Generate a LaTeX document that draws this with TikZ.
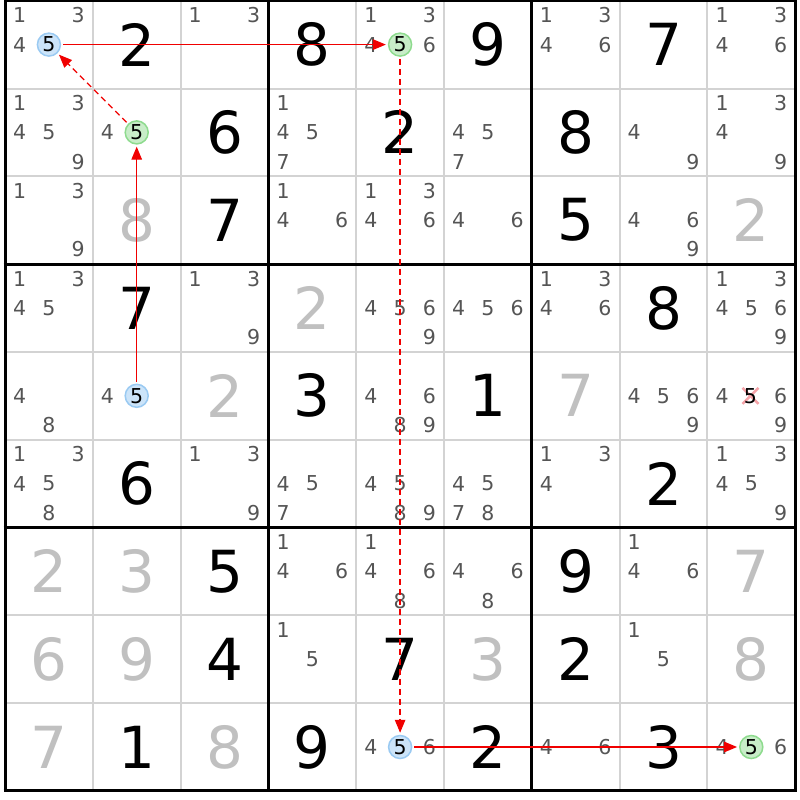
\documentclass[tikz,border=0pt]{standalone}
\usepackage{fontspec}
\setmainfont{DejaVu Sans}
\usetikzlibrary{arrows.meta}
\definecolor{candgray}{HTML}{555555}
\definecolor{solvgray}{HTML}{C0C0C0}
\definecolor{gridgray}{HTML}{D3D3D3}
\definecolor{bluefill}{HTML}{CCE4F9}
\definecolor{blueedge}{HTML}{9ACAF2}
\definecolor{greenfill}{HTML}{C8EDC8}
\definecolor{greenedge}{HTML}{8EDB8E}
\definecolor{linkred}{HTML}{F00000}
\definecolor{xpink}{HTML}{F5A3A8}
\newcommand\Gv[3]{\node[big] (g#1#2) at ({5+(#2-0.5)*87.8},{0.7+(#1-0.5)*87.8}) {#3};}
\newcommand\Sv[3]{\node[bigsolved] (g#1#2) at ({5+(#2-0.5)*87.8},{0.7+(#1-0.5)*87.8}) {#3};}
\newcommand\Cd[3]{\foreach \dg in {#3}{%
  \pgfmathtruncatemacro\sx{mod(\dg-1,3)}%
  \pgfmathtruncatemacro\sy{(\dg-1)/3}%
  \node[cand] (c#1#2\dg) at ({5+(#2-1)*87.8+(2*\sx+1)*87.8/6},{0.7+(#1-1)*87.8+(2*\sy+1)*87.8/6}) {\dg};}}
\newcommand\Hl[4]{%
  \pgfmathtruncatemacro\sx{mod(#3-1,3)}%
  \pgfmathtruncatemacro\sy{(#3-1)/3}%
  \node[#4] (c#1#2#3) at ({5+(#2-1)*87.8+(2*\sx+1)*87.8/6},{0.7+(#1-1)*87.8+(2*\sy+1)*87.8/6}) {#3};}
\begin{document}
\begin{tikzpicture}[x=1pt,y=-1pt,
  big/.style={inner sep=0pt, font=\fontsize{58}{58}\selectfont, text=black},
  bigsolved/.style={big, text=solvgray},
  cand/.style={inner sep=0pt, font=\fontsize{20.5}{21}\selectfont, text=candgray},
  hlblue/.style={circle, inner sep=0pt, minimum size=23pt, draw=blueedge, fill=bluefill, line width=1.5pt, font=\fontsize{20.5}{21}\selectfont, text=black},
  hlgreen/.style={hlblue, draw=greenedge, fill=greenfill},
  strong/.style={draw=linkred, line width=1.3pt, -{Triangle[length=13pt,width=10.5pt]}, shorten <=2pt, shorten >=2pt},
  weak/.style={strong, dash pattern=on 6pt off 4pt},
  gridthin/.style={draw=gridgray, line width=2pt},
  gridthick/.style={draw=black, line width=3pt},
  xmark/.style={draw=xpink, line width=2.5pt}]
\useasboundingbox[fill=white] (0,0) rectangle (800,800);
% grid
\foreach \i in {1,2,4,5,7,8} {
  \draw[gridthin] ({5+\i*87.8},0.7) -- ({5+\i*87.8},{0.7+9*87.8});
  \draw[gridthin] (5,{0.7+\i*87.8}) -- ({5+9*87.8},{0.7+\i*87.8});
}
\foreach \i in {0,3,6,9} {
  \draw[gridthick] ({5+\i*87.8},-0.8) -- ({5+\i*87.8},{2.2+9*87.8});
  \draw[gridthick] (3.5,{0.7+\i*87.8}) -- ({6.5+9*87.8},{0.7+\i*87.8});
}
% row 1
\Cd{1}{1}{1,3,4} \Hl{1}{1}{5}{hlblue} \Gv{1}{2}{2} \Cd{1}{3}{1,3} \Gv{1}{4}{8}
\Cd{1}{5}{1,3,4,6} \Hl{1}{5}{5}{hlgreen} \Gv{1}{6}{9} \Cd{1}{7}{1,3,4,6} \Gv{1}{8}{7} \Cd{1}{9}{1,3,4,6}
% row 2
\Cd{2}{1}{1,3,4,5,9} \Cd{2}{2}{4} \Hl{2}{2}{5}{hlgreen} \Gv{2}{3}{6} \Cd{2}{4}{1,4,5,7} \Gv{2}{5}{2}
\Cd{2}{6}{4,5,7} \Gv{2}{7}{8} \Cd{2}{8}{4,9} \Cd{2}{9}{1,3,4,9}
% row 3
\Cd{3}{1}{1,3,9} \Sv{3}{2}{8} \Gv{3}{3}{7} \Cd{3}{4}{1,4,6} \Cd{3}{5}{1,3,4,6} \Cd{3}{6}{4,6}
\Gv{3}{7}{5} \Cd{3}{8}{4,6,9} \Sv{3}{9}{2}
% row 4
\Cd{4}{1}{1,3,4,5} \Gv{4}{2}{7} \Cd{4}{3}{1,3,9} \Sv{4}{4}{2} \Cd{4}{5}{4,5,6,9} \Cd{4}{6}{4,5,6}
\Cd{4}{7}{1,3,4,6} \Gv{4}{8}{8} \Cd{4}{9}{1,3,4,5,6,9}
% row 5
\Cd{5}{1}{4,8} \Cd{5}{2}{4} \Hl{5}{2}{5}{hlblue} \Sv{5}{3}{2} \Gv{5}{4}{3} \Cd{5}{5}{4,6,8,9}
\Gv{5}{6}{1} \Sv{5}{7}{7} \Cd{5}{8}{4,5,6,9} \Cd{5}{9}{4,6,9}
\coordinate (x595) at (750.5,395.8);
\draw[xmark] ([shift={(-8,-8)}]x595) -- ([shift={(8,8)}]x595);
\draw[xmark] ([shift={(-8,8)}]x595) -- ([shift={(8,-8)}]x595);
\node[cand, text=black] (c595) at (x595) {5};
% row 6
\Cd{6}{1}{1,3,4,5,8} \Gv{6}{2}{6} \Cd{6}{3}{1,3,9} \Cd{6}{4}{4,5,7} \Cd{6}{5}{4,5,8,9}
\Cd{6}{6}{4,5,7,8} \Cd{6}{7}{1,3,4} \Gv{6}{8}{2} \Cd{6}{9}{1,3,4,5,9}
% row 7
\Sv{7}{1}{2} \Sv{7}{2}{3} \Gv{7}{3}{5} \Cd{7}{4}{1,4,6} \Cd{7}{5}{1,4,6,8} \Cd{7}{6}{4,6,8}
\Gv{7}{7}{9} \Cd{7}{8}{1,4,6} \Sv{7}{9}{7}
% row 8
\Sv{8}{1}{6} \Sv{8}{2}{9} \Gv{8}{3}{4} \Cd{8}{4}{1,5} \Gv{8}{5}{7} \Sv{8}{6}{3}
\Gv{8}{7}{2} \Cd{8}{8}{1,5} \Sv{8}{9}{8}
% row 9
\Sv{9}{1}{7} \Gv{9}{2}{1} \Sv{9}{3}{8} \Gv{9}{4}{9} \Cd{9}{5}{4,6} \Hl{9}{5}{5}{hlblue}
\Gv{9}{6}{2} \Cd{9}{7}{4,6} \Gv{9}{8}{3} \Cd{9}{9}{4,6} \Hl{9}{9}{5}{hlgreen}
% chain
\draw[strong] (c525) -- (c225);
\draw[weak] (c225) -- (c115);
\draw[strong] (c115) -- (c155);
\draw[weak] (c155) -- (c955);
\draw[strong] (c955) -- (c995);
\end{tikzpicture}
\end{document}
